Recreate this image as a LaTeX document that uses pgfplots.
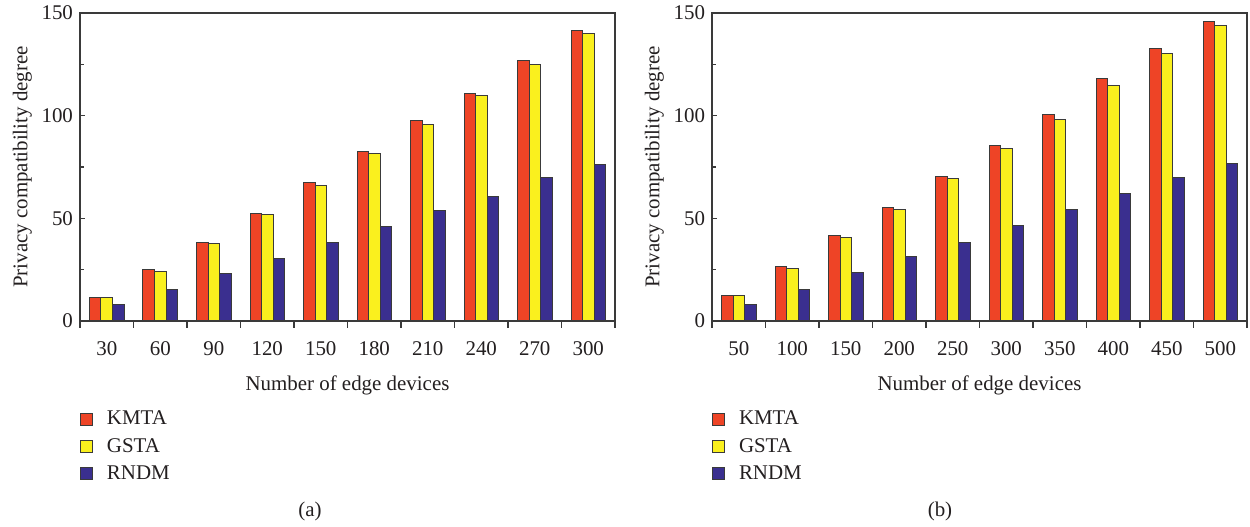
\documentclass[border=0pt]{standalone}
\usepackage{pgfplots}
\pgfplotsset{compat=1.18}
\usepackage{fontspec}
\setmainfont{Liberation Serif}
\definecolor{cK}{HTML}{EE4426}
\definecolor{cG}{HTML}{FAF01E}
\definecolor{cR}{HTML}{3A2F8F}
\definecolor{txt}{HTML}{231F20}
\definecolor{ax}{HTML}{3A3A3A}
\pgfplotsset{
  sq/.style={legend image code/.code={\draw[##1] (0bp,-3bp) rectangle (6bp,3bp);}},
  geom/.style={
    scale only axis, width=267.5bp, height=154bp,
    anchor=south west,
    xmin=-0.5, xmax=9.5, ymin=0, ymax=150,
  },
  panel/.style={
    geom,
    ybar=0pt, bar width=0.215,
    xtick={-0.5,0.5,...,9.5}, x tick label as interval,
    ytick={0,50,100,150}, minor y tick num=1,
    xtick pos=bottom, ytick pos=left,
    tick align=inside,
    major tick length=2.5bp, minor tick length=2bp,
    xtick style={draw=none},
    ytick style={ax, line width=0.6bp},
    minor tick style={ax, line width=0.6bp},
    axis line style={ax, line width=0.7bp},
    /pgf/number format/assume math mode=true,
    tick label style={font=\fontsize{10.5}{12}\selectfont, text=txt},
    xticklabel style={yshift=-7bp},
    label style={font=\fontsize{10.5}{12}\selectfont, text=txt},
    xlabel={Number of edge devices},
    ylabel={Privacy compatibility degree},
    xlabel style={yshift=-3bp},
    ylabel style={yshift=-2bp},
    every axis plot/.append style={draw=ax, line width=0.5bp, sq},
    legend style={draw=none, fill=none, inner sep=0pt, outer sep=0pt,
      at={(0.0,-0.292)}, anchor=north west,
      font=\fontsize{10.5}{12}\selectfont, text=txt,
      nodes={inner sep=0pt, anchor=west},
      column sep=7bp, row sep=5.25bp},
    legend cell align=left,
  },
  xticks/.style={
    geom,
    axis x line*=bottom, axis y line=none,
    xtick={-0.5,0.5,...,9.5}, xticklabels={},
    ytick=\empty,
    tick align=outside, major tick length=3.5bp,
    xtick style={ax, line width=0.6bp},
    axis line style={ax, line width=0.7bp},
  }
}
\begin{document}
\begin{tikzpicture}
\path[use as bounding box] (0,0) rectangle (625bp,263.5bp);
\begin{axis}[panel, at={(40bp,103bp)},
  xticklabels={30,60,90,120,150,180,210,240,270,300}]
\addplot[fill=cK] coordinates {(0,11.5) (1,25.1) (2,38.4) (3,52.5) (4,67.3) (5,82.7) (6,97.5) (7,110.8) (8,126.8) (9,141.7)};
\addplot[fill=cG] coordinates {(0,11.5) (1,24.3) (2,37.6) (3,51.7) (4,66.0) (5,81.4) (6,95.5) (7,109.6) (8,125.0) (9,139.8)};
\addplot[fill=cR] coordinates {(0,7.8) (1,15.4) (2,23.0) (3,30.2) (4,38.4) (5,46.1) (6,53.8) (7,60.8) (8,69.9) (9,76.4)};
\legend{KMTA,GSTA,RNDM}
\end{axis}
\begin{axis}[xticks, at={(40bp,103bp)}]
\end{axis}
\begin{axis}[panel, at={(356bp,103bp)},
  xticklabels={50,100,150,200,250,300,350,400,450,500}]
\addplot[fill=cK] coordinates {(0,12.3) (1,26.3) (2,41.7) (3,55.1) (4,70.5) (5,85.3) (6,100.5) (7,117.9) (8,132.6) (9,146.1)};
\addplot[fill=cG] coordinates {(0,12.3) (1,25.6) (2,40.9) (3,54.5) (4,69.2) (5,84.0) (6,98.1) (7,114.6) (8,130.2) (9,143.8)};
\addplot[fill=cR] coordinates {(0,7.8) (1,15.4) (2,23.7) (3,31.5) (4,38.4) (5,46.7) (6,54.5) (7,62.1) (8,69.9) (9,76.9)};
\legend{KMTA,GSTA,RNDM}
\end{axis}
\begin{axis}[xticks, at={(356bp,103bp)}]
\end{axis}
\node[font=\fontsize{10.5}{12}\selectfont, text=txt] at (155bp,8bp) {(a)};
\node[font=\fontsize{10.5}{12}\selectfont, text=txt] at (470bp,8bp) {(b)};
\end{tikzpicture}
\end{document}
